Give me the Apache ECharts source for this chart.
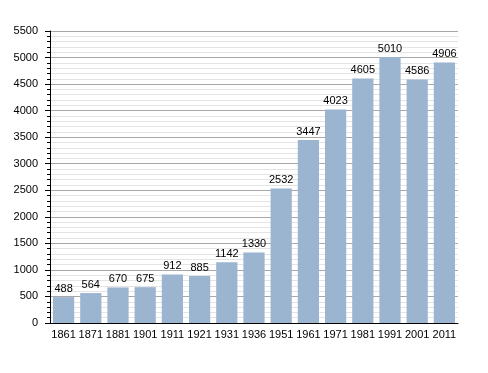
<!DOCTYPE html>
<html><head><meta charset="utf-8">
<script src="https://cdn.jsdelivr.net/npm/echarts@6/dist/echarts.min.js"></script>
<style>html,body{margin:0;padding:0;background:#fff}#c{width:488px;height:373px}</style>
</head><body><div id="c"></div>
<script>
var years = ['1861','1871','1881','1901','1911','1921','1931','1936','1951','1961','1971','1981','1991','2001','2011'];
var population = [488,564,670,675,912,885,1142,1330,2532,3447,4023,4605,5010,4586,4906];
var yTicks = [0,500,1000,1500,2000,2500,3000,3500,4000,4500,5000,5500];

var chart = echarts.init(document.getElementById('c'), null, {renderer:'canvas'});
chart.setOption({
  animation:false,
  backgroundColor:'#ffffff',
  grid:{left:50, top:31, right:30, bottom:50, containLabel:false},
  xAxis:{
    type:'category', data:years,
    axisLine:{show:true, lineStyle:{color:'#000', width:1}},
    axisTick:{show:false},
    axisLabel:{color:'#000', fontFamily:'Liberation Sans, Arial', fontSize:11, margin:6, interval:0}
  },
  yAxis:{
    type:'value', min:yTicks[0], max:yTicks[yTicks.length-1], interval:500,
    axisLine:{show:true, lineStyle:{color:'#000', width:1}},
    axisTick:{show:true, length:5, lineStyle:{color:'#000'}},
    minorTick:{show:true, splitNumber:5, length:3, lineStyle:{color:'#000'}},
    splitLine:{show:true, lineStyle:{color:'#a8a8a8', width:1}},
    minorSplitLine:{show:true, lineStyle:{color:'#e4e4e4', width:1}},
    axisLabel:{color:'#000', fontFamily:'Liberation Sans, Arial', fontSize:11, margin:12,
      formatter:function(v){return String(v);}}
  },
  series:[{
    type:'bar', data:population, barCategoryGap:'22%',
    itemStyle:{color:'#9bb4d0'},
    label:{show:true, position:'top', color:'#000', fontFamily:'Liberation Sans, Arial', fontSize:11, distance:3}
  }]
});
</script></body></html>
